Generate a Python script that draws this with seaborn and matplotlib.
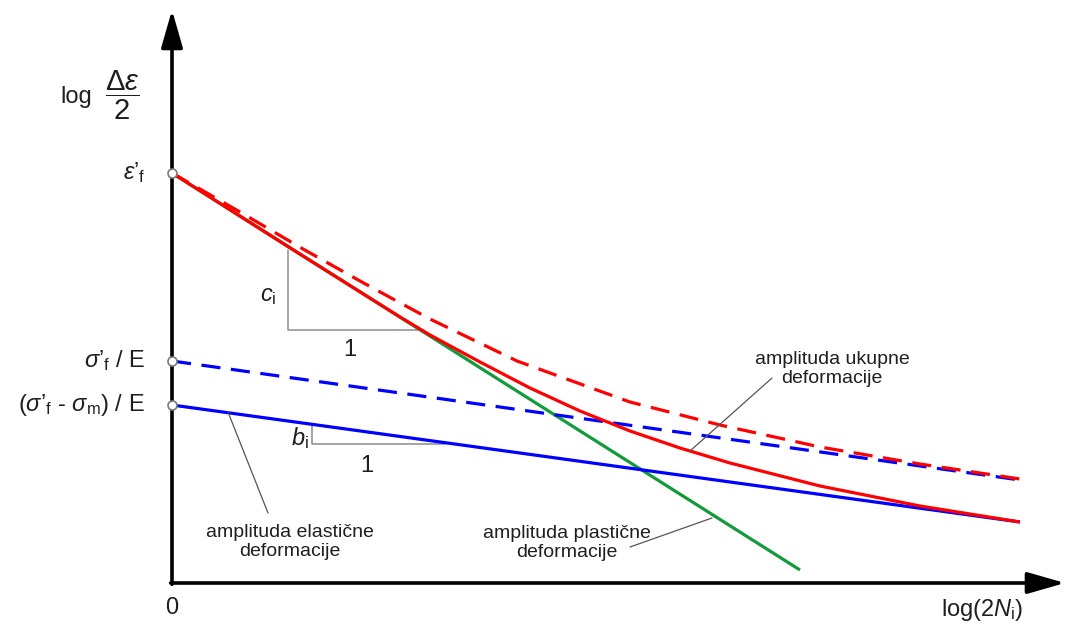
import matplotlib
matplotlib.use("Agg")
import matplotlib.pyplot as plt
import seaborn as sns
import pandas as pd

# ---------------- data (schematic units: x = log(2N), y = log strain amplitude) -------------
plastic_x = [0.0, 6.28]
plastic_y = [4.10, 0.13]

elastic_x = [0.0, 8.48]
elastic_y = [1.78, 0.61]

elastic_nomean_x = [0.0, 8.48]
elastic_nomean_y = [2.22, 1.03]

total_x = [0.0, 1.15, 2.28, 2.58, 3.08, 3.58, 4.08, 4.58, 5.08, 5.58, 6.48, 7.48, 8.48]
total_y = [4.10, 3.37, 2.66, 2.48, 2.21, 1.95, 1.72, 1.52, 1.35, 1.20, 0.97, 0.77, 0.61]

total_nomean_x = [0.0, 0.68, 1.31, 1.88, 2.21, 2.58, 3.45, 4.58, 5.48, 6.48, 7.48, 8.48]
total_nomean_y = [4.10, 3.71, 3.34, 3.02, 2.84, 2.64, 2.22, 1.81, 1.58, 1.36, 1.19, 1.04]

start_points_y = [4.10, 2.22, 1.78]

y_labels = [r"$\varepsilon\mathrm{’}_\mathrm{f}$",
            r"$\sigma\mathrm{’}_\mathrm{f}$ / E",
            r"($\sigma\mathrm{’}_\mathrm{f}$ - $\sigma_\mathrm{m}$) / E"]

# ---------------- style ----------------
sns.set_style("white")
plt.rcParams["font.family"] = ["Liberation Sans", "DejaVu Sans"]
plt.rcParams["mathtext.fontset"] = "custom"
plt.rcParams["mathtext.rm"] = "Liberation Sans"
plt.rcParams["mathtext.it"] = "Liberation Sans:italic"
plt.rcParams["mathtext.bf"] = "Liberation Sans:bold"
plt.rcParams["mathtext.sf"] = "Liberation Sans"

RED = "#ff0000"
BLUE = "#0000ff"
GREEN = "#139a3b"
TXT = "#1f1f1f"
LW = 2.3

fig = plt.figure(figsize=(10.67, 6.27), dpi=100)
ax = fig.add_axes([0, 0, 1, 1])
ax.set_xlim(-1.72, 8.95)
ax.set_ylim(-0.44, 5.83)
ax.axis("off")

def line(xs, ys, color, dashed=False, z=3):
    df = pd.DataFrame({"x": xs, "y": ys})
    sns.lineplot(data=df, x="x", y="y", ax=ax, color=color, lw=LW, sort=False,
                 estimator=None, zorder=z)
    ln = ax.get_lines()[-1]
    if dashed:
        ln.set_linestyle((0, (6.0, 3.3)))
    ln.set_solid_capstyle("butt")
    ln.set_dash_capstyle("butt")

line(plastic_x, plastic_y, GREEN, z=3)
line(elastic_x, elastic_y, BLUE, z=4)
line(elastic_nomean_x, elastic_nomean_y, BLUE, dashed=True, z=4)
line(total_nomean_x, total_nomean_y, RED, dashed=True, z=5)
line(total_x, total_y, RED, z=6)
ax.set_xlabel("")
ax.set_ylabel("")

# axes arrows
arrow_kw = dict(arrowstyle="-|>,head_length=1.15,head_width=0.33", lw=2.6,
                color="black", shrinkA=0, shrinkB=0, mutation_scale=20)
ax.annotate("", xy=(0, 5.73), xytext=(0, -0.013), arrowprops=arrow_kw, zorder=8)
ax.annotate("", xy=(8.93, 0), xytext=(-0.013, 0), arrowprops=arrow_kw, zorder=8)

# open circles on the y axis
ax.plot([0] * len(start_points_y), start_points_y, "o", ms=6.5, mfc="white",
        mec="#7a7a7a", mew=1.2, zorder=10, clip_on=False)

# slope triangles
GR = "#8c8c8c"
ax.plot([1.16, 1.16, 2.46], [3.33, 2.53, 2.53], color=GR, lw=1.1, zorder=2)
ax.plot([1.40, 1.40, 2.73], [1.57, 1.39, 1.39], color=GR, lw=1.1, zorder=2)

FS = 17
ax.text(0.96, 2.87, r"$c_\mathrm{i}$", fontsize=FS, ha="center", va="center", color=TXT)
ax.text(1.78, 2.33, "1", fontsize=FS, ha="center", va="center", color=TXT)
ax.text(1.28, 1.45, r"$b_\mathrm{i}$", fontsize=FS, ha="center", va="center", color=TXT)
ax.text(1.95, 1.17, "1", fontsize=FS, ha="center", va="center", color=TXT)

# leader lines
LD = "#555555"
ax.plot([0.56, 0.96], [1.71, 0.70], color=LD, lw=0.9, zorder=7)
ax.plot([5.40, 4.58], [0.65, 0.36], color=LD, lw=0.9, zorder=7)
ax.plot([6.00, 5.18], [2.05, 1.32], color=LD, lw=0.9, zorder=7)

FS2 = 14
ax.text(1.18, 0.41, "amplituda elastične\ndeformacije", fontsize=FS2, ha="center",
        va="center", color=TXT, linespacing=1.15)
ax.text(3.95, 0.40, "amplituda plastične\ndeformacije", fontsize=FS2, ha="center",
        va="center", color=TXT, linespacing=1.15)
ax.text(6.60, 2.14, "amplituda ukupne\ndeformacije", fontsize=FS2, ha="center",
        va="center", color=TXT, linespacing=1.15)

# axis labels
ax.text(-1.12, 4.86, "log", fontsize=FS, ha="left", va="center", color=TXT)
ax.text(-0.50, 4.88, r"$\dfrac{\Delta\varepsilon}{2}$", fontsize=21, ha="center",
        va="center", color=TXT)
for yv, lab in zip(start_points_y, y_labels):
    ax.text(-0.27, yv, lab, fontsize=FS, ha="right", va="center", color=TXT)
ax.text(0.0, -0.25, "0", fontsize=FS, ha="center", va="center", color=TXT)
ax.text(8.10, -0.27, r"log(2$N_\mathrm{i}$)", fontsize=FS, ha="center", va="center", color=TXT)

fig.savefig("out.png", dpi=100)
